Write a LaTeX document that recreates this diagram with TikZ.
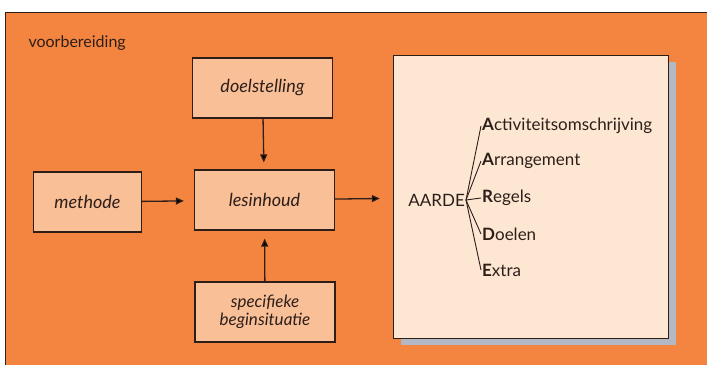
\documentclass[tikz,border=0pt]{standalone}
\usepackage{fontspec}
\setmainfont{Lato}
\usetikzlibrary{positioning,arrows.meta,shadows}
\definecolor{oranje}{RGB}{244,133,64}
\definecolor{zalm}{RGB}{249,192,152}
\definecolor{papier}{RGB}{253,231,210}
\definecolor{schaduw}{RGB}{178,184,196}
\definecolor{inkt}{RGB}{45,30,25}

\begin{document}
\begin{tikzpicture}[x=1pt,y=-1pt,>={Triangle[length=8pt,width=7pt]},
    blok/.style={draw=inkt, line width=1.3pt, fill=zalm, minimum width=140pt, minimum height=60pt,
        font=\itshape\fontsize{18}{20}\selectfont, text=inkt, align=center, inner sep=2pt},
    pijl/.style={->, line width=1.3pt, draw=inkt},
    tak/.style={draw=inkt, line width=0.9pt},
    letter/.style={anchor=west, inner sep=1pt, text=inkt, font=\fontsize{17}{19}\selectfont}]

    % achtergrond
    \useasboundingbox (0,0) rectangle (707,367);
    \fill[white] (0,0) rectangle (707,367);
    \fill[oranje] (5,12) rectangle (707,365);
    \draw[inkt] (5,365) -- (5,12) -- (707,12);
    \node[anchor=west, text=inkt, font=\fontsize{16}{18}\selectfont] (titel) at (25,43) {voorbereiding};

    % blokken
    \node[blok] (doel) at (262.5,88) {doelstelling};
    \node[blok] (les) at (264.5,200) {lesinhoud};
    \node[blok, minimum width=108pt] (methode) at (87.5,202) {methode};
    \node[blok, font=\itshape\fontsize{17}{18}\selectfont] (begin) at (265,312) {specifieke\\beginsituatie};

    % AARDE kader
    \node[draw=inkt, fill=papier, minimum width=275pt, minimum height=283pt,
        drop shadow={shadow xshift=8pt, shadow yshift=-7pt, fill=schaduw, opacity=1}] (kader) at (530.5,196.5) {};
    \node[anchor=east, inner sep=1pt, text=inkt, font=\fontsize{17}{19}\selectfont] (aarde) at (466,200) {AARDE};
    \node[letter] (a1) at (481,126) {\textbf{A}ctiviteitsomschrijving};
    \node[letter] (a2) at (481,161) {\textbf{A}rrangement};
    \node[letter] (a3) at (481,198) {\textbf{R}egels};
    \node[letter] (a4) at (481,234) {\textbf{D}oelen};
    \node[letter] (a5) at (481,270) {\textbf{E}xtra};

    \path[pijl]
    (doel) edge[shorten >=7pt] (les)
    (methode) edge[shorten >=10pt] (les)
    (begin) edge[shorten >=8pt] (les)
    (les) edge[shorten >=13pt] (kader);

    \foreach \i in {1,...,5}
        \draw[tak] (aarde.east) -- (a\i.west);
\end{tikzpicture}
\end{document}
